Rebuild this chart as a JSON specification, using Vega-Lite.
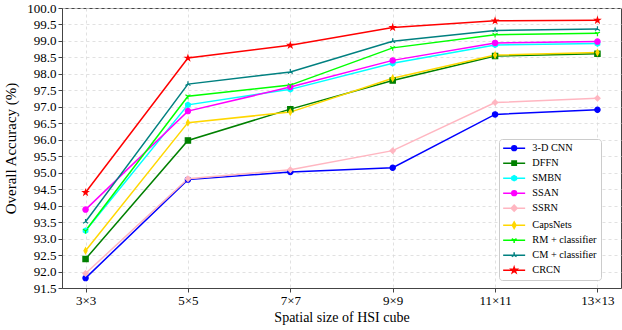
{
  "$schema": "https://vega.github.io/schema/vega-lite/v6.json",
  "width": 559,
  "height": 280,
  "autosize": {"type": "none"},
  "padding": {"left": 62, "top": 8, "right": 1, "bottom": 42},
  "background": "white",
  "config": {
    "font": "Liberation Serif",
    "view": {"stroke": "#444", "strokeWidth": 1},
    "axis": {
      "labelFont": "Liberation Serif",
      "labelFontSize": 13,
      "labelColor": "#000",
      "titleFont": "Liberation Serif",
      "titleFontWeight": "normal",
      "titleColor": "#000",
      "domainColor": "#444",
      "tickColor": "#444",
      "tickSize": 4,
      "gridColor": "#d9d9d9",
      "gridDash": [3, 3],
      "gridWidth": 0.8
    },
    "legend": {
      "labelFont": "Liberation Serif"
    }
  },
  "data": {
    "values": [
      {"size": "3×3", "model": "3-D CNN", "oa": 91.80},
      {"size": "5×5", "model": "3-D CNN", "oa": 94.79},
      {"size": "7×7", "model": "3-D CNN", "oa": 95.02},
      {"size": "9×9", "model": "3-D CNN", "oa": 95.15},
      {"size": "11×11", "model": "3-D CNN", "oa": 96.77},
      {"size": "13×13", "model": "3-D CNN", "oa": 96.91},
      {"size": "3×3", "model": "DFFN", "oa": 92.38},
      {"size": "5×5", "model": "DFFN", "oa": 95.98},
      {"size": "7×7", "model": "DFFN", "oa": 96.93},
      {"size": "9×9", "model": "DFFN", "oa": 97.80},
      {"size": "11×11", "model": "DFFN", "oa": 98.54},
      {"size": "13×13", "model": "DFFN", "oa": 98.61},
      {"size": "3×3", "model": "SMBN", "oa": 93.24},
      {"size": "5×5", "model": "SMBN", "oa": 97.06},
      {"size": "7×7", "model": "SMBN", "oa": 97.53},
      {"size": "9×9", "model": "SMBN", "oa": 98.32},
      {"size": "11×11", "model": "SMBN", "oa": 98.88},
      {"size": "13×13", "model": "SMBN", "oa": 98.92},
      {"size": "3×3", "model": "SSAN", "oa": 93.88},
      {"size": "5×5", "model": "SSAN", "oa": 96.87},
      {"size": "7×7", "model": "SSAN", "oa": 97.60},
      {"size": "9×9", "model": "SSAN", "oa": 98.41},
      {"size": "11×11", "model": "SSAN", "oa": 98.94},
      {"size": "13×13", "model": "SSAN", "oa": 98.98},
      {"size": "3×3", "model": "SSRN", "oa": 91.94},
      {"size": "5×5", "model": "SSRN", "oa": 94.82},
      {"size": "7×7", "model": "SSRN", "oa": 95.09},
      {"size": "9×9", "model": "SSRN", "oa": 95.67},
      {"size": "11×11", "model": "SSRN", "oa": 97.13},
      {"size": "13×13", "model": "SSRN", "oa": 97.26},
      {"size": "3×3", "model": "CapsNets", "oa": 92.63},
      {"size": "5×5", "model": "CapsNets", "oa": 96.52},
      {"size": "7×7", "model": "CapsNets", "oa": 96.84},
      {"size": "9×9", "model": "CapsNets", "oa": 97.87},
      {"size": "11×11", "model": "CapsNets", "oa": 98.57},
      {"size": "13×13", "model": "CapsNets", "oa": 98.65},
      {"size": "3×3", "model": "RM + classifier", "oa": 93.24},
      {"size": "5×5", "model": "RM + classifier", "oa": 97.32},
      {"size": "7×7", "model": "RM + classifier", "oa": 97.66},
      {"size": "9×9", "model": "RM + classifier", "oa": 98.79},
      {"size": "11×11", "model": "RM + classifier", "oa": 99.19},
      {"size": "13×13", "model": "RM + classifier", "oa": 99.23},
      {"size": "3×3", "model": "CM + classifier", "oa": 93.51},
      {"size": "5×5", "model": "CM + classifier", "oa": 97.69},
      {"size": "7×7", "model": "CM + classifier", "oa": 98.06},
      {"size": "9×9", "model": "CM + classifier", "oa": 98.99},
      {"size": "11×11", "model": "CM + classifier", "oa": 99.32},
      {"size": "13×13", "model": "CM + classifier", "oa": 99.36},
      {"size": "3×3", "model": "CRCN", "oa": 94.40},
      {"size": "5×5", "model": "CRCN", "oa": 98.48},
      {"size": "7×7", "model": "CRCN", "oa": 98.87},
      {"size": "9×9", "model": "CRCN", "oa": 99.41},
      {"size": "11×11", "model": "CRCN", "oa": 99.61},
      {"size": "13×13", "model": "CRCN", "oa": 99.63}
    ]
  },
  "encoding": {
    "x": {
      "field": "size",
      "type": "ordinal",
      "sort": ["3×3", "5×5", "7×7", "9×9", "11×11", "13×13"],
      "scale": {"type": "point", "padding": 0.23},
      "axis": {
        "title": "Spatial size of HSI cube",
        "titleFontSize": 14,
        "titlePadding": 3,
        "labelAngle": 0,
        "labelPadding": 2,
        "grid": true
      }
    },
    "y": {
      "field": "oa",
      "type": "quantitative",
      "scale": {"domain": [91.5, 100], "zero": false, "nice": false},
      "axis": {
        "title": "Overall Accuracy (%)",
        "titleFontSize": 15,
        "titlePadding": 8,
        "format": ".1f",
        "values": [91.5, 92, 92.5, 93, 93.5, 94, 94.5, 95, 95.5, 96, 96.5, 97, 97.5, 98, 98.5, 99, 99.5, 100],
        "labelPadding": 2,
        "grid": true
      }
    }
  },
  "layer": [
    {
      "mark": {"type": "line", "strokeWidth": 1.5},
      "encoding": {
        "color": {
          "field": "model",
          "type": "nominal",
          "scale": {
            "domain": ["3-D CNN", "DFFN", "SMBN", "SSAN", "SSRN", "CapsNets", "RM + classifier", "CM + classifier", "CRCN"],
            "range": ["#0000ff", "#008000", "#00ffff", "#ff00ff", "#ffb6c1", "#ffd700", "#00ff00", "#008080", "#ff0000"]
          },
          "legend": null
        }
      }
    },
    {
      "mark": {"type": "point", "filled": true, "size": 28, "strokeWidth": 1.2, "opacity": 1},
      "encoding": {
        "fill": {
          "field": "model",
          "type": "nominal",
          "scale": {
            "domain": ["3-D CNN", "DFFN", "SMBN", "SSAN", "SSRN", "CapsNets", "RM + classifier", "CM + classifier", "CRCN"],
            "range": ["#0000ff", "#008000", "#00ffff", "#ff00ff", "#ffb6c1", "#ffd700", "#00ff00", "#008080", "#ff0000"]
          },
          "legend": null
        },
        "stroke": {
          "field": "model",
          "type": "nominal",
          "scale": {
            "domain": ["3-D CNN", "DFFN", "SMBN", "SSAN", "SSRN", "CapsNets", "RM + classifier", "CM + classifier", "CRCN"],
            "range": ["#0000ff", "#008000", "#00ffff", "#ff00ff", "#ffb6c1", "#ffd700", "#00ff00", "#008080", "#ff0000"]
          },
          "legend": null
        },
        "shape": {
          "field": "model",
          "type": "nominal",
          "scale": {
            "domain": ["3-D CNN", "DFFN", "SMBN", "SSAN", "SSRN", "CapsNets", "RM + classifier", "CM + classifier", "CRCN"],
            "range": [
              "circle",
              "square",
              "M0,-1L0.866,-0.5L0.866,0.5L0,1L-0.866,0.5L-0.866,-0.5Z",
              "circle",
              "diamond",
              "M0,-1.1L0.6,0L0,1.1L-0.6,0Z",
              "M0,0L0,1.1M0,0L-0.95,-0.55M0,0L0.95,-0.55",
              "M0,0L0,-1.1M0,0L-0.95,0.55M0,0L0.95,0.55",
              "M0,-1.0L0.225,-0.31L0.95,-0.31L0.364,0.118L0.588,0.81L0,0.382L-0.588,0.81L-0.364,0.118L-0.95,-0.31L-0.225,-0.31Z"
            ]
          },
          "legend": null
        }
      }
    },
    {
      "mark": {"type": "point", "filled": true, "size": 64, "opacity": 0},
      "encoding": {
        "fill": {
          "field": "model",
          "type": "nominal",
          "scale": {
            "domain": ["3-D CNN", "DFFN", "SMBN", "SSAN", "SSRN", "CapsNets", "RM + classifier", "CM + classifier", "CRCN"],
            "range": ["#0000ff", "#008000", "#00ffff", "#ff00ff", "#ffb6c1", "#ffd700", "#00ff00", "#008080", "#ff0000"]
          },
          "legend": {
            "title": null,
            "orient": "none",
            "legendX": 437,
            "legendY": 131,
            "fillColor": "white",
            "strokeColor": "#cccccc",
            "cornerRadius": 3,
            "padding": 4,
            "labelFontSize": 10.3,
            "labelColor": "#000",
            "symbolSize": 64,
            "symbolOpacity": 1,
            "symbolStrokeWidth": 1.5,
            "symbolOffset": 6,
            "labelOffset": 13,
            "rowPadding": 3
          }
        },
        "stroke": {
          "field": "model",
          "type": "nominal",
          "scale": {
            "domain": ["3-D CNN", "DFFN", "SMBN", "SSAN", "SSRN", "CapsNets", "RM + classifier", "CM + classifier", "CRCN"],
            "range": ["#0000ff", "#008000", "#00ffff", "#ff00ff", "#ffb6c1", "#ffd700", "#00ff00", "#008080", "#ff0000"]
          },
          "legend": {
            "title": null,
            "orient": "none",
            "legendX": 437,
            "legendY": 131,
            "fillColor": "white",
            "strokeColor": "#cccccc",
            "cornerRadius": 3,
            "padding": 4,
            "labelFontSize": 10.3,
            "labelColor": "#000",
            "symbolSize": 64,
            "symbolOpacity": 1,
            "symbolStrokeWidth": 1.5,
            "symbolOffset": 6,
            "labelOffset": 13,
            "rowPadding": 3
          }
        },
        "shape": {
          "field": "model",
          "type": "nominal",
          "scale": {
            "domain": ["3-D CNN", "DFFN", "SMBN", "SSAN", "SSRN", "CapsNets", "RM + classifier", "CM + classifier", "CRCN"],
            "range": [
              "M-2.75,0H2.75M0.6,0A0.6,0.6,0,1,1,-0.6,0A0.6,0.6,0,1,1,0.6,0Z",
              "M-2.75,0H2.75M-0.55,-0.55H0.55V0.55H-0.55Z",
              "M-2.75,0H2.75M0,-0.65L0.56,-0.325L0.56,0.325L0,0.65L-0.56,0.325L-0.56,-0.325Z",
              "M-2.75,0H2.75M0.6,0A0.6,0.6,0,1,1,-0.6,0A0.6,0.6,0,1,1,0.6,0Z",
              "M-2.75,0H2.75M0,-0.75L0.75,0L0,0.75L-0.75,0Z",
              "M-2.75,0H2.75M0,-0.8L0.45,0L0,0.8L-0.45,0Z",
              "M-2.75,0H2.75M0,0L0,0.7M0,0L-0.6,-0.35M0,0L0.6,-0.35",
              "M-2.75,0H2.75M0,0L0,-0.7M0,0L-0.6,0.35M0,0L0.6,0.35",
              "M-2.75,0H2.75M0,-0.75L0.17,-0.232L0.713,-0.232L0.273,0.089L0.441,0.607L0,0.287L-0.441,0.607L-0.273,0.089L-0.713,-0.232L-0.17,-0.232Z"
            ]
          },
          "legend": {
            "title": null,
            "orient": "none",
            "legendX": 437,
            "legendY": 131,
            "fillColor": "white",
            "strokeColor": "#cccccc",
            "cornerRadius": 3,
            "padding": 4,
            "labelFontSize": 10.3,
            "labelColor": "#000",
            "symbolSize": 64,
            "symbolOpacity": 1,
            "symbolStrokeWidth": 1.5,
            "symbolOffset": 6,
            "labelOffset": 13,
            "rowPadding": 3
          }
        }
      }
    }
  ],
  "resolve": {
    "scale": {"color": "independent", "fill": "independent", "stroke": "independent", "shape": "independent"}
  }
}
